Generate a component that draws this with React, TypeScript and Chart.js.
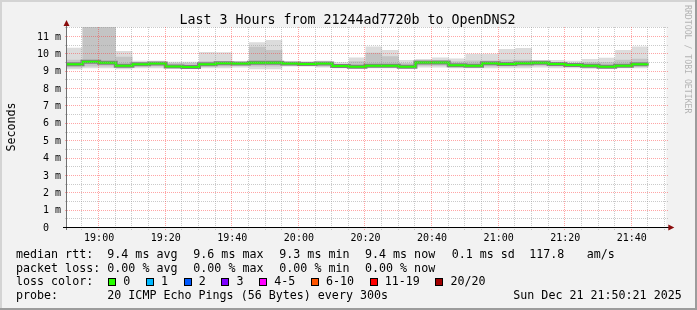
import { useEffect, useRef } from 'react';
import { Chart, registerables } from 'chart.js';

Chart.register(...registerables);

// ---------- data ----------
const chartTitle = 'Last 3 Hours from 21244ad7720b to OpenDNS2';
const yAxisTitle = 'Seconds';
const watermark = 'RRDTOOL / TOBI OETIKER';
const windowStart = '18:50:21';
const windowEnd = '21:50:21';

// rrd sample timestamps (each covers the preceding 5 minutes)
const sampleTimes = [
  '18:55', '19:00', '19:05', '19:10', '19:15', '19:20', '19:25', '19:30', '19:35', '19:40', '19:45', '19:50', '19:55',
  '20:00', '20:05', '20:10', '20:15', '20:20', '20:25', '20:30', '20:35', '20:40', '20:45', '20:50', '20:55',
  '21:00', '21:05', '21:10', '21:15', '21:20', '21:25', '21:30', '21:35', '21:40', '21:45',
];
// values in ms
const rttMedian = [
  9.43, 9.58, 9.52, 9.35, 9.43, 9.47, 9.31, 9.27, 9.43, 9.49, 9.47, 9.52, 9.52,
  9.47, 9.45, 9.47, 9.33, 9.29, 9.35, 9.35, 9.29, 9.54, 9.54, 9.37, 9.35,
  9.49, 9.45, 9.49, 9.52, 9.45, 9.39, 9.35, 9.29, 9.35, 9.43,
];
const smokeMax = [
  10.39, 11.58, 11.58, 10.2, 9.64, 9.64, 9.58, 9.58, 10.14, 10.12, 9.58, 10.7, 10.83,
  9.5, 9.6, 9.64, 9.55, 9.83, 10.45, 10.25, 9.68, 9.74, 9.83, 9.77, 10.04,
  10.04, 10.31, 10.37, 9.68, 9.68, 9.64, 9.74, 9.81, 10.25, 10.45,
];
const smokeHigh = [
  9.7, 11.58, 11.58, 9.87, 9.55, 9.55, 9.5, 9.5, 9.6, 9.6, 9.52, 10.44, 10.25,
  9.48, 9.5, 9.55, 9.45, 9.6, 10.1, 9.9, 9.5, 9.62, 9.65, 9.6, 9.65,
  9.65, 9.7, 9.7, 9.6, 9.55, 9.5, 9.55, 9.55, 9.7, 9.75,
];
const smokeLow = [
  9.25, 9.3, 9.3, 9.25, 9.3, 9.3, 9.25, 9.22, 9.3, 9.3, 9.35, 9.3, 9.3,
  9.35, 9.35, 9.3, 9.25, 9.22, 9.28, 9.28, 9.22, 9.35, 9.35, 9.28, 9.28,
  9.3, 9.3, 9.3, 9.35, 9.3, 9.28, 9.25, 9.22, 9.28, 9.3,
];
const smokeMin = [
  9.15, 9.2, 9.2, 9.15, 9.2, 9.2, 9.2, 9.18, 9.2, 9.2, 9.25, 9.15, 9.15,
  9.3, 9.3, 9.25, 9.2, 9.18, 9.2, 9.2, 9.18, 9.25, 9.25, 9.2, 9.2,
  9.2, 9.2, 9.2, 9.25, 9.2, 9.2, 9.18, 9.18, 9.2, 9.2,
];

const xTickLabels = ['19:00', '19:20', '19:40', '20:00', '20:20', '20:40', '21:00', '21:20', '21:40'];
const yTickValues = [0, 1, 2, 3, 4, 5, 6, 7, 8, 9, 10, 11];
const yTickLabels = ['0  ', '1 m', '2 m', '3 m', '4 m', '5 m', '6 m', '7 m', '8 m', '9 m', '10 m', '11 m'];
const yMax = 11.58;

const rttStats = ['9.4 ms avg', '9.6 ms max', '9.3 ms min', '9.4 ms now', '0.1 ms sd', '117.8', 'am/s'];
const lossStats = ['0.00 % avg', '0.00 % max', '0.00 % min', '0.00 % now'];
const lossLevels = ['0', '1', '2', '3', '4-5', '6-10', '11-19', '20/20'];
const lossColors = ['#26ff00', '#00b8ff', '#0059ff', '#7e00ff', '#ff00ff', '#ff5500', '#ff0000', '#a10000'];
const probeText = '20 ICMP Echo Pings (56 Bytes) every 300s';
const dateText = 'Sun Dec 21 21:50:21 2025';

// ---------- helpers ----------
const toMin = (s: string) => {
  const p = s.split(':').map(Number);
  return p[0] * 60 + p[1] + (p[2] || 0) / 60;
};
const series = (vals: number[]) => [
  { x: toMin(windowStart), y: vals[0] },
  ...sampleTimes.map((t, i) => ({ x: toMin(t), y: vals[i] })),
];

const MONO = '"DejaVu Sans Mono", monospace';

const rrdPlugin = {
  id: 'rrdStyle',
  beforeDraw(chart: any) {
    const { ctx, chartArea: a, width, height } = chart;
    ctx.save();
    ctx.fillStyle = '#f2f2f2';
    ctx.fillRect(0, 0, width, height);
    ctx.fillStyle = '#d4d4d4';
    ctx.fillRect(0, 0, width, 2);
    ctx.fillRect(0, 0, 2, height);
    ctx.fillStyle = '#9c9c9c';
    ctx.fillRect(0, height - 2, width, 2);
    ctx.fillRect(width - 2, 0, 2, height);
    ctx.fillStyle = '#ffffff';
    ctx.fillRect(a.left, a.top, a.right - a.left, a.bottom - a.top);
    ctx.restore();
  },
  afterDatasetsDraw(chart: any) {
    const { ctx, chartArea: a } = chart;
    const xs = chart.scales.x;
    const ys = chart.scales.y;
    ctx.save();
    ctx.lineWidth = 1;
    ctx.setLineDash([1, 1]);
    const minorCol = 'rgba(150,150,150,0.5)';
    const majorCol = 'rgba(255,40,40,0.42)';
    // horizontal
    for (let v = 0.5; v < ys.max; v += 0.5) {
      const y = Math.round(ys.getPixelForValue(v)) - 0.5;
      ctx.strokeStyle = Number.isInteger(v) ? majorCol : minorCol;
      ctx.beginPath();
      ctx.moveTo(a.left - 2, y);
      ctx.lineTo(a.right + 2, y);
      ctx.stroke();
    }
    // vertical
    const start = Math.ceil(xs.min / 5) * 5;
    for (let t = start; t <= xs.max; t += 5) {
      const x = Math.round(xs.getPixelForValue(t)) - 0.5;
      ctx.strokeStyle = t % 20 === 0 ? majorCol : minorCol;
      ctx.beginPath();
      ctx.moveTo(x, a.top);
      ctx.lineTo(x, a.bottom + 2);
      ctx.stroke();
    }
    ctx.setLineDash([]);
    // axes
    const ax = Math.round(a.left) - 0.5;
    const ay = Math.round(a.bottom) - 0.5;
    ctx.strokeStyle = '#707070';
    ctx.beginPath();
    ctx.moveTo(ax, a.bottom + 2);
    ctx.lineTo(ax, a.top - 1);
    ctx.stroke();
    ctx.strokeStyle = '#000000';
    ctx.beginPath();
    ctx.moveTo(a.left - 4, ay);
    ctx.lineTo(a.right + 3, ay);
    ctx.stroke();
    // arrows
    ctx.fillStyle = '#8a0c0c';
    ctx.beginPath();
    ctx.moveTo(ax, a.top - 7);
    ctx.lineTo(ax - 3, a.top - 1);
    ctx.lineTo(ax + 3, a.top - 1);
    ctx.closePath();
    ctx.fill();
    ctx.beginPath();
    ctx.moveTo(a.right + 8, ay);
    ctx.lineTo(a.right + 2, ay - 3);
    ctx.lineTo(a.right + 2, ay + 3);
    ctx.closePath();
    ctx.fill();
    ctx.restore();
  },
  afterDraw(chart: any) {
    const { ctx } = chart;
    ctx.save();
    ctx.fillStyle = '#000000';
    ctx.textBaseline = 'alphabetic';
    // title
    ctx.font = `13.3px ${MONO}`;
    ctx.textAlign = 'center';
    ctx.fillText(chartTitle, 347.5, 24);
    // y title
    ctx.font = `11.67px ${MONO}`;
    ctx.save();
    ctx.translate(15, 127);
    ctx.rotate(-Math.PI / 2);
    ctx.textAlign = 'center';
    ctx.fillText(yAxisTitle, 0, 0);
    ctx.restore();
    // watermark
    ctx.save();
    ctx.fillStyle = '#b4b4b4';
    ctx.font = `8.2px ${MONO}`;
    ctx.translate(684.5, 5);
    ctx.rotate(Math.PI / 2);
    ctx.textAlign = 'left';
    ctx.fillText(watermark, 0, 0);
    ctx.restore();
    // legend
    ctx.font = `11.67px ${MONO}`;
    ctx.textAlign = 'left';
    const rows = [258, 271.7, 285.4, 299];
    const cols = [107.3, 193.3, 279.3, 365];
    ctx.fillText('median rtt:', 16, rows[0]);
    const rttX = [107.3, 193.3, 279.3, 365, 451.7, 529.3, 586.7];
    rttStats.forEach((s, i) => ctx.fillText(s, rttX[i], rows[0]));
    ctx.fillText('packet loss:', 16, rows[1]);
    lossStats.forEach((s, i) => ctx.fillText(s, cols[i], rows[1]));
    ctx.fillText('loss color:', 16, rows[2]);
    let lx = 108.3;
    lossLevels.forEach((lab, i) => {
      const sx = Math.round(lx);
      ctx.fillStyle = '#000000';
      ctx.fillRect(sx, 278, 8, 8);
      ctx.fillStyle = lossColors[i];
      ctx.fillRect(sx + 1, 279, 6, 6);
      ctx.fillStyle = '#000000';
      ctx.fillText(lab, lx + 15, rows[2]);
      lx += 15 + ctx.measureText(lab).width + 15.7;
    });
    ctx.fillText('probe:', 16, rows[3]);
    ctx.fillText(probeText, 107.3, rows[3]);
    ctx.fillText(dateText, 513.3, rows[3]);
    ctx.restore();
  },
};

const lineBase = {
  stepped: 'after' as const,
  pointRadius: 0,
  borderWidth: 0,
  tension: 0,
};

export default function App() {
  const ref = useRef<HTMLCanvasElement>(null);
  useEffect(() => {
    const chart = new Chart(ref.current as HTMLCanvasElement, {
      type: 'line',
      data: {
        datasets: [
          { ...lineBase, label: 'min', data: series(smokeMin), fill: false, order: 10 },
          { ...lineBase, label: 'max', data: series(smokeMax), fill: 0, backgroundColor: '#dcdcdc', order: 9 },
          { ...lineBase, label: 'low', data: series(smokeLow), fill: false, order: 8 },
          { ...lineBase, label: 'high', data: series(smokeHigh), fill: 2, backgroundColor: '#c4c4c4', order: 7 },
          { ...lineBase, label: 'median shade', data: series(rttMedian), fill: false, borderWidth: 4, borderColor: '#808080', order: 1 },
          { ...lineBase, label: 'median rtt', data: series(rttMedian), fill: false, borderWidth: 2, borderColor: '#26ff00', order: 0 },
        ] as any,
      },
      options: {
        animation: false,
        responsive: false,
        devicePixelRatio: 1,
        layout: { padding: { left: 0, top: 27, right: 697 - 666.3, bottom: 0 } },
        plugins: { legend: { display: false }, tooltip: { enabled: false }, title: { display: false } },
        scales: {
          x: {
            type: 'linear',
            min: toMin(windowStart),
            max: toMin(windowEnd),
            grid: { display: false, drawTicks: false },
            border: { display: false },
            afterFit: (s: any) => { s.height = 82; },
            afterBuildTicks: (s: any) => { s.ticks = xTickLabels.map((l) => ({ value: toMin(l) })); },
            ticks: {
              autoSkip: false,
              maxRotation: 0,
              minRotation: 0,
              padding: 4,
              color: '#000000',
              font: { family: 'DejaVu Sans Mono', size: 10 },
              callback: (_v: any, i: number) => xTickLabels[i],
            },
          },
          y: {
            type: 'linear',
            min: 0,
            max: yMax,
            grid: { display: false, drawTicks: false },
            border: { display: false },
            afterFit: (s: any) => { s.width = 67; },
            afterBuildTicks: (s: any) => { s.ticks = yTickValues.map((v) => ({ value: v })); },
            ticks: {
              padding: 6,
              color: '#000000',
              font: { family: 'DejaVu Sans Mono', size: 10 },
              callback: (_v: any, i: number) => yTickLabels[i],
            },
          },
        },
      } as any,
      plugins: [rrdPlugin],
    });
    return () => chart.destroy();
  }, []);
  return (
    <div style={{ position: 'fixed', left: 0, top: 0, width: 697, height: 310 }}>
      <canvas ref={ref} width={697} height={310} style={{ display: 'block', width: 697, height: 310 }} />
    </div>
  );
}
